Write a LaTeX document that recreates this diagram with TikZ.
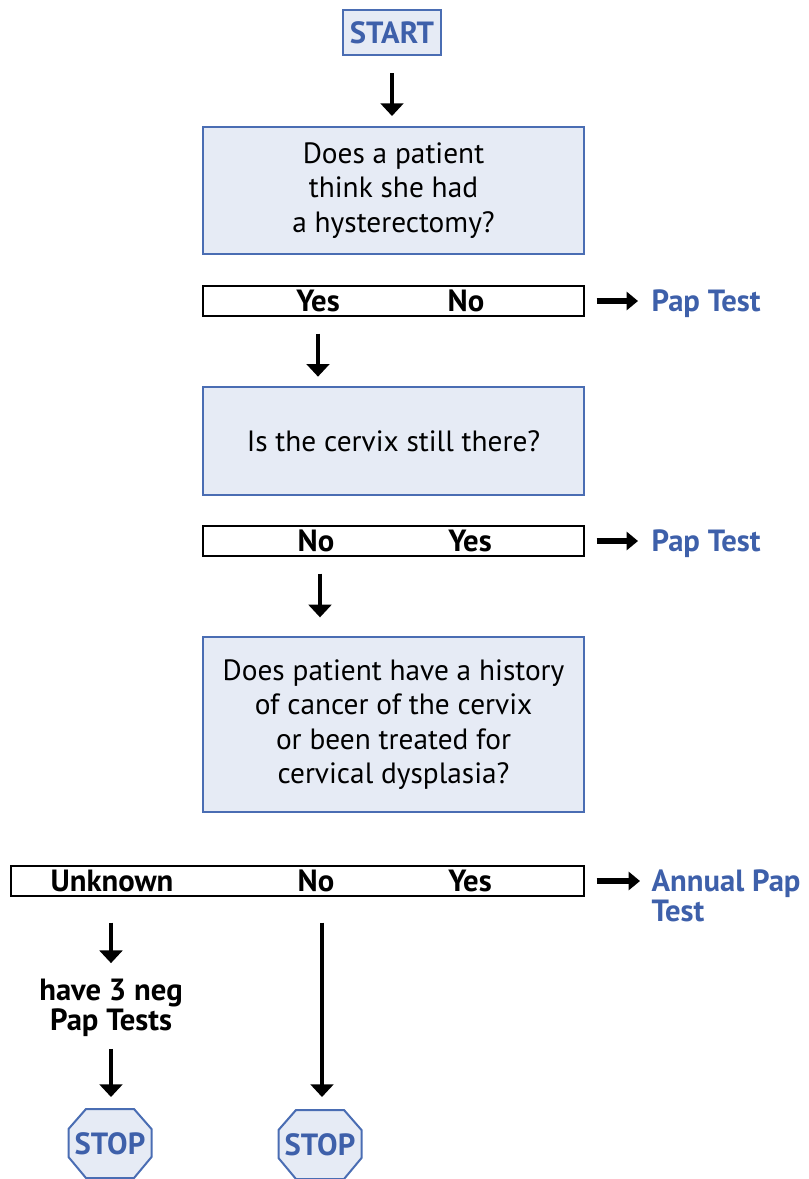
\documentclass[tikz,border=0pt]{standalone}
\usepackage{fontspec}
\setmainfont{PT Sans}
\usetikzlibrary{arrows.meta}
\definecolor{boxfill}{HTML}{E6EBF5}
\definecolor{boxline}{HTML}{4A6DB3}
\definecolor{bluetxt}{HTML}{3E60AA}
\tikzset{
  qbox/.style={draw=boxline, line width=1.5pt, fill=boxfill, align=center,
    minimum width=285.75pt, font=\fontsize{22}{25.8}\selectfont, inner sep=0pt},
  barbox/.style={draw=black, line width=1.1pt, fill=white, minimum height=22.5pt, inner sep=0pt},
  lab/.style={font=\fontsize{23}{22}\selectfont\bfseries, inner sep=1pt},
  bluelab/.style={font=\fontsize{23}{22}\selectfont\bfseries, text=bluetxt, inner sep=1pt, align=left},
  darr/.style={line width=3.6pt, -{Triangle[width=17pt,length=9.5pt]}},
  rarr/.style={line width=3.8pt, -{Triangle[width=13.5pt,length=8.5pt]}},
  stopoct/.style={draw=boxline, line width=1.5pt, fill=boxfill},
  stoptxt/.style={font=\fontsize{23}{22}\selectfont\bfseries, text=bluetxt, inner sep=0pt}
}
\begin{document}
\begin{tikzpicture}[x=0.75pt,y=-0.75pt]
\useasboundingbox (0,0) rectangle (809,1179);
% START
\node[draw=boxline, line width=1.5pt, fill=boxfill, minimum width=73.5pt, minimum height=33.75pt,
  font=\fontsize{23}{22}\selectfont\bfseries, text=bluetxt, inner sep=0pt] (start) at (392,32.5) {START};
% box1
\node[qbox, minimum height=95.25pt] (box1) at (393.5,190.5) {Does a patient\\think she had\\a hysterectomy?};
\draw[darr, shorten <=12.75pt, shorten >=7.5pt] (start.south) -- (box1.north -| start);
% bar1
\node[barbox, minimum width=285.75pt] (bar1) at (393.5,301) {};
\node[lab] (yes1) at (318,301) {Yes};
\node[lab] (no1) at (466,301) {No};
\node[bluelab, anchor=west] (pap1) at (650,303.5) {Pap Test};
\draw[rarr, shorten <=9pt, shorten >=9pt] (bar1.east) -- (pap1.west |- bar1.east);
% box2
\node[qbox, minimum height=81pt] (box2) at (393.5,441) {Is the cervix still there?};
\draw[darr, shorten <=12.75pt, shorten >=7pt] (bar1.south -| yes1) -- (box2.north -| yes1);
% bar2
\node[barbox, minimum width=285.75pt] (bar2) at (393.5,541) {};
\node[lab] (no2) at (316,541) {No};
\node[lab] (yes2) at (470,541) {Yes};
\node[bluelab, anchor=west] (pap2) at (650,543.5) {Pap Test};
\draw[rarr, shorten <=9pt, shorten >=9pt] (bar2.east) -- (pap2.west |- bar2.east);
% box3
\node[qbox, minimum height=131.25pt] (box3) at (393.5,724.5) {Does patient have a history\\of cancer of the cervix\\or been treated for\\cervical dysplasia?};
\coordinate (c3) at (320,0);
\draw[darr, shorten <=12.75pt, shorten >=14pt] (bar2.south -| c3) -- (box3.north -| c3);
% bar3
\node[barbox, minimum width=429.75pt] (bar3) at (297.5,881) {};
\node[lab] (unk) at (112,881) {Unknown};
\node[lab] (no3) at (316,881) {No};
\node[lab] (yes3) at (470,881) {Yes};
\node[bluelab, anchor=north west, font=\fontsize{23}{22.5}\selectfont\bfseries] (pap3) at (650,868) {Annual Pap\\Test};
\coordinate (r3) at (640,881);
\draw[rarr, shorten <=9pt] (bar3.east) -- (r3);
% left branch
\node[lab, align=center, font=\fontsize{23}{21}\selectfont\bfseries] (neg) at (111,1008) {have 3 neg\\Pap Tests};
\coordinate (c1) at (111,0);
\draw[darr, shorten <=19.5pt, shorten >=11pt] (bar3.south -| c1) -- (neg.north -| c1);
% STOP octagons
\coordinate (s1) at (110,1144);
\coordinate (s2) at (320,1145);
\foreach \s in {s1,s2}{
  \begin{scope}[shift={(\s)}]
    \draw[stopoct] (-24,-35) -- (24,-35) -- (41.5,-15) -- (41.5,13) -- (24,34) -- (-24,34) -- (-41.5,13) -- (-41.5,-15) -- cycle;
  \end{scope}
}
\node[stoptxt] (stop1) at (s1) {STOP};
\node[stoptxt] (stop2) at (s2) {STOP};
\coordinate (stoptop1) at (111,1109);
\coordinate (stoptop2) at (322,1109);
\draw[darr, shorten <=8pt, shorten >=9pt] (neg.south -| c1) -- (stoptop1);
\coordinate (c4) at (322,0);
\draw[darr, shorten <=19.5pt, shorten >=9pt] (bar3.south -| c4) -- (stoptop2);
\end{tikzpicture}
\end{document}
